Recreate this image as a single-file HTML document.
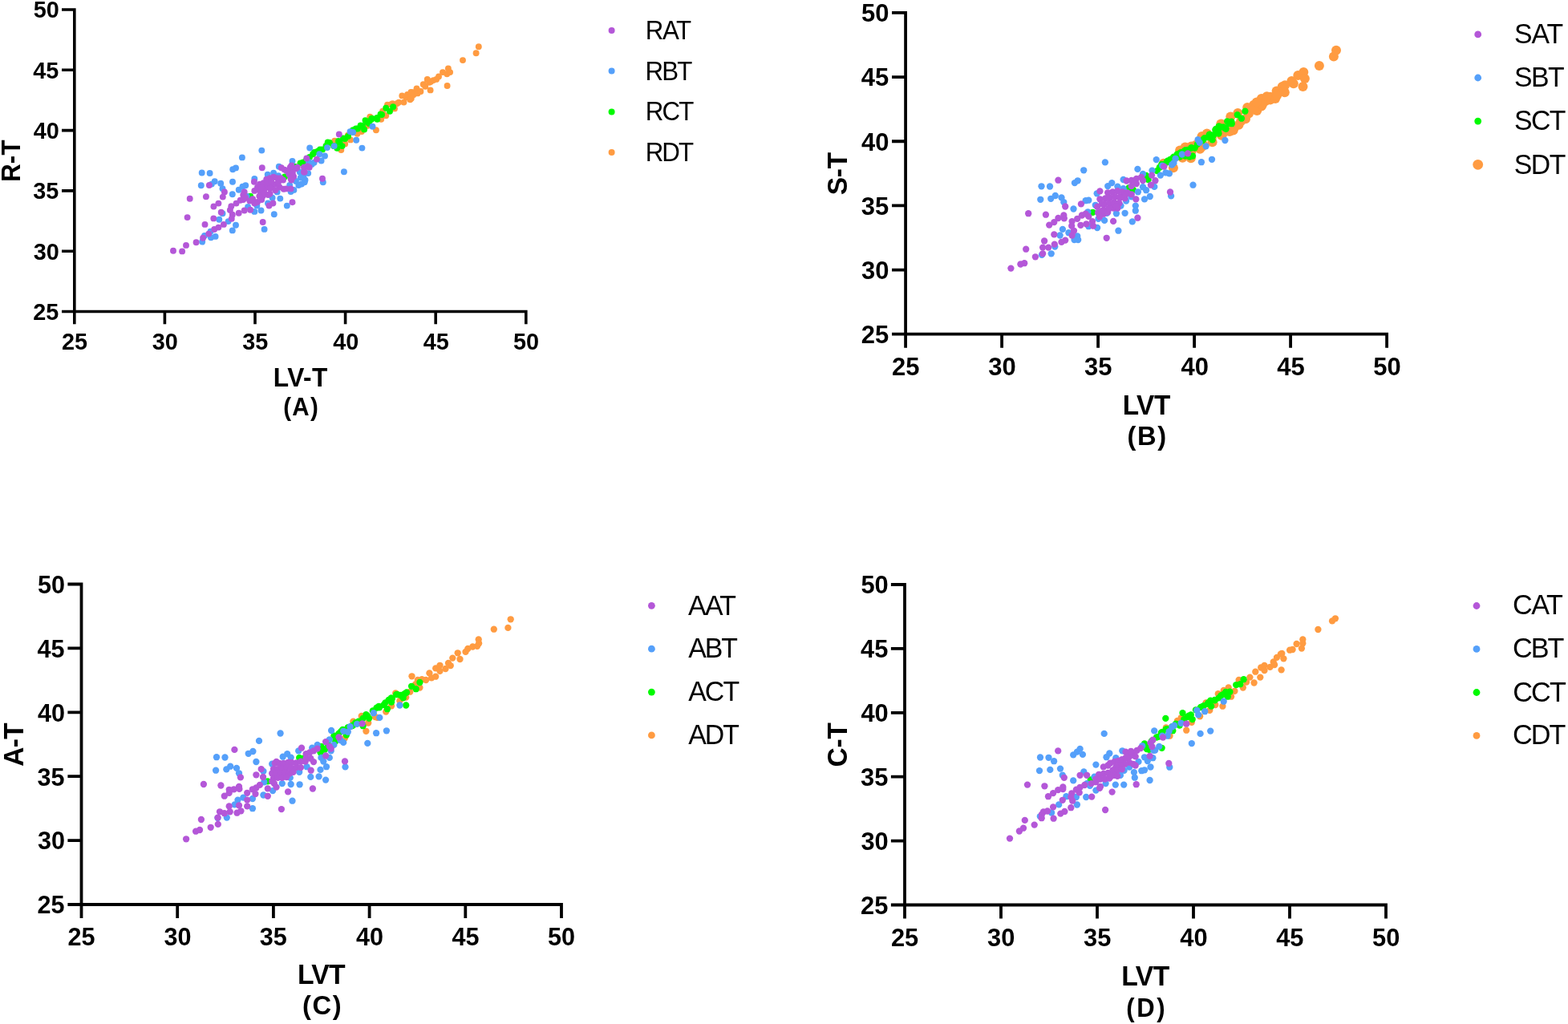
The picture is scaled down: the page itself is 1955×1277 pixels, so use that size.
<!DOCTYPE html>
<html><head><meta charset="utf-8"><title>Scatter plots</title>
<style>
html,body{margin:0;padding:0;background:#fff;}
body{width:1955px;height:1277px;overflow:hidden;}
svg{display:block;}
text{font-kerning:normal;}
</style></head><body>
<svg width="1955" height="1277" viewBox="0 0 1955 1277">
<rect width="1955" height="1277" fill="#fff"/>
<g fill="#ff9b41">
<circle cx="506.5" cy="121.5" r="3.95"/>
<circle cx="515.3" cy="115.2" r="3.95"/>
<circle cx="524" cy="113.9" r="3.95"/>
<circle cx="530.3" cy="107.7" r="3.95"/>
<circle cx="535.3" cy="102.7" r="3.95"/>
<circle cx="540.4" cy="100.1" r="3.95"/>
<circle cx="532.8" cy="98.9" r="3.95"/>
<circle cx="512.8" cy="122.7" r="3.95"/>
<circle cx="495.2" cy="129" r="3.95"/>
<circle cx="487.7" cy="130.2" r="3.95"/>
<circle cx="425.3" cy="187" r="3.95"/>
<circle cx="437" cy="174.4" r="3.95"/>
<circle cx="433.8" cy="168.6" r="3.95"/>
<circle cx="445.5" cy="166.8" r="3.95"/>
<circle cx="450.9" cy="164.1" r="3.95"/>
<circle cx="458.2" cy="156.8" r="3.95"/>
<circle cx="461.3" cy="145.6" r="3.95"/>
<circle cx="417.2" cy="175.8" r="3.95"/>
<circle cx="430.2" cy="179.4" r="3.95"/>
<circle cx="468.9" cy="162.2" r="3.95"/>
<circle cx="475.2" cy="148.8" r="3.95"/>
<circle cx="481.2" cy="144.3" r="3.95"/>
<circle cx="477.1" cy="138.8" r="3.95"/>
<circle cx="483" cy="130.6" r="3.95"/>
<circle cx="489.4" cy="129.1" r="3.95"/>
<circle cx="492" cy="135.4" r="3.95"/>
<circle cx="497.2" cy="127.6" r="3.95"/>
<circle cx="503.5" cy="127.6" r="3.95"/>
<circle cx="501.3" cy="119.4" r="3.95"/>
<circle cx="508" cy="118" r="3.95"/>
<circle cx="512.4" cy="115" r="3.95"/>
<circle cx="511.3" cy="124.3" r="3.95"/>
<circle cx="519.5" cy="110.5" r="3.95"/>
<circle cx="515.4" cy="118.3" r="3.95"/>
<circle cx="520.6" cy="116.4" r="3.95"/>
<circle cx="524.4" cy="113.9" r="3.95"/>
<circle cx="527.8" cy="105.2" r="3.95"/>
<circle cx="532.9" cy="99.8" r="3.95"/>
<circle cx="537.2" cy="101.7" r="3.95"/>
<circle cx="536.6" cy="112.4" r="3.95"/>
<circle cx="544.1" cy="98.9" r="3.95"/>
<circle cx="547" cy="95.5" r="3.95"/>
<circle cx="552" cy="90.1" r="3.95"/>
<circle cx="558.9" cy="85.4" r="3.95"/>
<circle cx="557.3" cy="92.3" r="3.95"/>
<circle cx="561.1" cy="90.1" r="3.95"/>
<circle cx="557.6" cy="107" r="3.95"/>
<circle cx="577" cy="75.1" r="3.95"/>
<circle cx="593.6" cy="66.3" r="3.95"/>
<circle cx="596.8" cy="58.2" r="3.95"/>
</g>
<g fill="#00fa00">
<circle cx="312.1" cy="244.6" r="3.95"/>
<circle cx="355" cy="220.5" r="3.95"/>
<circle cx="362" cy="213" r="3.95"/>
<circle cx="368" cy="208" r="3.95"/>
<circle cx="378" cy="202.5" r="3.95"/>
<circle cx="386" cy="196" r="3.95"/>
<circle cx="392" cy="190" r="3.95"/>
<circle cx="399" cy="186.5" r="3.95"/>
<circle cx="411" cy="178" r="3.95"/>
<circle cx="416" cy="182" r="3.95"/>
<circle cx="422" cy="176" r="3.95"/>
<circle cx="428" cy="172.5" r="3.95"/>
<circle cx="434" cy="170" r="3.95"/>
<circle cx="440" cy="163" r="3.95"/>
<circle cx="446" cy="160.5" r="3.95"/>
<circle cx="452" cy="157" r="3.95"/>
<circle cx="458" cy="152" r="3.95"/>
<circle cx="463" cy="149" r="3.95"/>
<circle cx="470" cy="147" r="3.95"/>
<circle cx="476" cy="143" r="3.95"/>
<circle cx="374.5" cy="203.5" r="3.95"/>
<circle cx="390.1" cy="192.3" r="3.95"/>
<circle cx="396.1" cy="188.6" r="3.95"/>
<circle cx="402" cy="186.4" r="3.95"/>
<circle cx="408.7" cy="177.4" r="3.95"/>
<circle cx="406.5" cy="181.9" r="3.95"/>
<circle cx="382" cy="199.7" r="3.95"/>
<circle cx="417.6" cy="182.1" r="3.95"/>
<circle cx="423.5" cy="177.6" r="3.95"/>
<circle cx="430.2" cy="173.1" r="3.95"/>
<circle cx="426.6" cy="182.1" r="3.95"/>
<circle cx="420.3" cy="184.8" r="3.95"/>
<circle cx="440.1" cy="162.3" r="3.95"/>
<circle cx="443.7" cy="160.5" r="3.95"/>
<circle cx="449.6" cy="156.4" r="3.95"/>
<circle cx="454.1" cy="161.4" r="3.95"/>
<circle cx="455.5" cy="150.1" r="3.95"/>
<circle cx="460" cy="154.1" r="3.95"/>
<circle cx="463.6" cy="147.8" r="3.95"/>
<circle cx="470.4" cy="148.8" r="3.95"/>
<circle cx="474.5" cy="142.5" r="3.95"/>
<circle cx="481.2" cy="134.7" r="3.95"/>
<circle cx="486" cy="138.8" r="3.95"/>
<circle cx="490.1" cy="133.2" r="3.95"/>
</g>
<g fill="#55a0fa">
<circle cx="251.7" cy="215.5" r="3.95"/>
<circle cx="261.6" cy="216" r="3.95"/>
<circle cx="250.8" cy="231.2" r="3.95"/>
<circle cx="267.7" cy="226.3" r="3.95"/>
<circle cx="275.2" cy="228.7" r="3.95"/>
<circle cx="277.5" cy="235.2" r="3.95"/>
<circle cx="263.9" cy="229.6" r="3.95"/>
<circle cx="290.2" cy="211.3" r="3.95"/>
<circle cx="294" cy="209.4" r="3.95"/>
<circle cx="290" cy="226.8" r="3.95"/>
<circle cx="289.8" cy="242.3" r="3.95"/>
<circle cx="273.3" cy="273.8" r="3.95"/>
<circle cx="277.5" cy="266.3" r="3.95"/>
<circle cx="284.6" cy="276.1" r="3.95"/>
<circle cx="294" cy="280.8" r="3.95"/>
<circle cx="289.8" cy="287.4" r="3.95"/>
<circle cx="252.2" cy="301.5" r="3.95"/>
<circle cx="255" cy="294" r="3.95"/>
<circle cx="263" cy="296.3" r="3.95"/>
<circle cx="268.6" cy="294.9" r="3.95"/>
<circle cx="262.5" cy="288.8" r="3.95"/>
<circle cx="297.7" cy="236.7" r="3.95"/>
<circle cx="347.8" cy="207.8" r="3.95"/>
<circle cx="317.3" cy="223" r="3.95"/>
<circle cx="306.2" cy="231.2" r="3.95"/>
<circle cx="302.4" cy="232.7" r="3.95"/>
<circle cx="307.6" cy="244.6" r="3.95"/>
<circle cx="333.7" cy="217.8" r="3.95"/>
<circle cx="341.1" cy="215.6" r="3.95"/>
<circle cx="347" cy="219.3" r="3.95"/>
<circle cx="345.6" cy="239.4" r="3.95"/>
<circle cx="339.6" cy="246.8" r="3.95"/>
<circle cx="349.3" cy="247.6" r="3.95"/>
<circle cx="334" cy="253.5" r="3.95"/>
<circle cx="325.5" cy="262.5" r="3.95"/>
<circle cx="317.3" cy="263.9" r="3.95"/>
<circle cx="309.1" cy="258" r="3.95"/>
<circle cx="320.3" cy="256.5" r="3.95"/>
<circle cx="341.8" cy="267.3" r="3.95"/>
<circle cx="329.6" cy="285.9" r="3.95"/>
<circle cx="301.9" cy="196.4" r="3.95"/>
<circle cx="326.3" cy="187.6" r="3.95"/>
<circle cx="374.7" cy="221.6" r="3.95"/>
<circle cx="369" cy="226" r="3.95"/>
<circle cx="380.5" cy="224.5" r="3.95"/>
<circle cx="386.2" cy="184.5" r="3.95"/>
<circle cx="408" cy="184.1" r="3.95"/>
<circle cx="364.5" cy="200.9" r="3.95"/>
<circle cx="398.3" cy="192.3" r="3.95"/>
<circle cx="405" cy="194.5" r="3.95"/>
<circle cx="400.6" cy="200.5" r="3.95"/>
<circle cx="391.6" cy="202.7" r="3.95"/>
<circle cx="384.9" cy="202" r="3.95"/>
<circle cx="388.7" cy="204.9" r="3.95"/>
<circle cx="373.8" cy="214.6" r="3.95"/>
<circle cx="378.3" cy="220.6" r="3.95"/>
<circle cx="372.3" cy="231" r="3.95"/>
<circle cx="379.7" cy="227.2" r="3.95"/>
<circle cx="376" cy="229.5" r="3.95"/>
<circle cx="384.2" cy="216.1" r="3.95"/>
<circle cx="361.2" cy="231" r="3.95"/>
<circle cx="362.6" cy="239.1" r="3.95"/>
<circle cx="366.4" cy="236.9" r="3.95"/>
<circle cx="402.8" cy="227.2" r="3.95"/>
<circle cx="357.8" cy="256.6" r="3.95"/>
<circle cx="416.7" cy="182.1" r="3.95"/>
<circle cx="436.5" cy="164.1" r="3.95"/>
<circle cx="440.1" cy="165" r="3.95"/>
<circle cx="444.2" cy="174.7" r="3.95"/>
<circle cx="451.4" cy="184.6" r="3.95"/>
<circle cx="428.9" cy="214.3" r="3.95"/>
<circle cx="464.5" cy="157.7" r="3.95"/>
</g>
<g fill="#b457d8">
<circle cx="216" cy="312.8" r="3.95"/>
<circle cx="227.1" cy="313.4" r="3.95"/>
<circle cx="232" cy="305.9" r="3.95"/>
<circle cx="244.6" cy="302.2" r="3.95"/>
<circle cx="253.1" cy="296.8" r="3.95"/>
<circle cx="260.2" cy="291.6" r="3.95"/>
<circle cx="267.2" cy="286" r="3.95"/>
<circle cx="272.4" cy="283.6" r="3.95"/>
<circle cx="278.9" cy="279.9" r="3.95"/>
<circle cx="266.3" cy="272.4" r="3.95"/>
<circle cx="275.7" cy="264.8" r="3.95"/>
<circle cx="255.5" cy="279.9" r="3.95"/>
<circle cx="233.6" cy="271.1" r="3.95"/>
<circle cx="236.7" cy="247.7" r="3.95"/>
<circle cx="256.9" cy="245.3" r="3.95"/>
<circle cx="260.9" cy="231" r="3.95"/>
<circle cx="279.9" cy="239.5" r="3.95"/>
<circle cx="277.8" cy="245.6" r="3.95"/>
<circle cx="272.4" cy="253.6" r="3.95"/>
<circle cx="266.4" cy="257.5" r="3.95"/>
<circle cx="288.3" cy="257.3" r="3.95"/>
<circle cx="286.9" cy="262" r="3.95"/>
<circle cx="289.8" cy="267.7" r="3.95"/>
<circle cx="288.8" cy="272.8" r="3.95"/>
<circle cx="294.5" cy="253.6" r="3.95"/>
<circle cx="297.7" cy="265.8" r="3.95"/>
<circle cx="299.6" cy="249.8" r="3.95"/>
<circle cx="326.8" cy="209.3" r="3.95"/>
<circle cx="350.8" cy="209.3" r="3.95"/>
<circle cx="316.9" cy="226.8" r="3.95"/>
<circle cx="304.7" cy="239.4" r="3.95"/>
<circle cx="303.2" cy="243.1" r="3.95"/>
<circle cx="303.2" cy="249.1" r="3.95"/>
<circle cx="306.2" cy="246.8" r="3.95"/>
<circle cx="312.1" cy="261.7" r="3.95"/>
<circle cx="304.7" cy="262.5" r="3.95"/>
<circle cx="317.3" cy="237.9" r="3.95"/>
<circle cx="321" cy="233.5" r="3.95"/>
<circle cx="324" cy="229.7" r="3.95"/>
<circle cx="328.5" cy="228.3" r="3.95"/>
<circle cx="332.2" cy="223.8" r="3.95"/>
<circle cx="336.6" cy="222.3" r="3.95"/>
<circle cx="341.1" cy="220.8" r="3.95"/>
<circle cx="345.6" cy="222.3" r="3.95"/>
<circle cx="350" cy="222.3" r="3.95"/>
<circle cx="353" cy="224.5" r="3.95"/>
<circle cx="353.7" cy="235.7" r="3.95"/>
<circle cx="348.5" cy="233.5" r="3.95"/>
<circle cx="343.3" cy="237.2" r="3.95"/>
<circle cx="336.6" cy="241.6" r="3.95"/>
<circle cx="334.4" cy="243.1" r="3.95"/>
<circle cx="327.7" cy="244.6" r="3.95"/>
<circle cx="326.2" cy="249.1" r="3.95"/>
<circle cx="321" cy="252" r="3.95"/>
<circle cx="317.3" cy="253.5" r="3.95"/>
<circle cx="311.4" cy="250.6" r="3.95"/>
<circle cx="315.1" cy="248.3" r="3.95"/>
<circle cx="324.7" cy="238.7" r="3.95"/>
<circle cx="330.7" cy="234.2" r="3.95"/>
<circle cx="339.6" cy="231.2" r="3.95"/>
<circle cx="335.1" cy="231.2" r="3.95"/>
<circle cx="329.2" cy="238.7" r="3.95"/>
<circle cx="323.3" cy="244.6" r="3.95"/>
<circle cx="335.5" cy="256.5" r="3.95"/>
<circle cx="340.4" cy="253.5" r="3.95"/>
<circle cx="327.7" cy="277" r="3.95"/>
<circle cx="326.2" cy="233.8" r="3.95"/>
<circle cx="333.7" cy="226" r="3.95"/>
<circle cx="338.1" cy="225.7" r="3.95"/>
<circle cx="336.6" cy="234.9" r="3.95"/>
<circle cx="344.1" cy="229.7" r="3.95"/>
<circle cx="347" cy="227.5" r="3.95"/>
<circle cx="354.7" cy="211.6" r="3.95"/>
<circle cx="361.8" cy="208.7" r="3.95"/>
<circle cx="369" cy="210.2" r="3.95"/>
<circle cx="360.4" cy="217.3" r="3.95"/>
<circle cx="366.1" cy="220.2" r="3.95"/>
<circle cx="363.3" cy="224.5" r="3.95"/>
<circle cx="357.5" cy="213" r="3.95"/>
<circle cx="379" cy="208.7" r="3.95"/>
<circle cx="383.3" cy="207.3" r="3.95"/>
<circle cx="379" cy="214.5" r="3.95"/>
<circle cx="382.3" cy="197.5" r="3.95"/>
<circle cx="395" cy="198.6" r="3.95"/>
<circle cx="363.4" cy="206.4" r="3.95"/>
<circle cx="370.8" cy="208.7" r="3.95"/>
<circle cx="358.2" cy="213.1" r="3.95"/>
<circle cx="364.9" cy="215.4" r="3.95"/>
<circle cx="362.6" cy="222.8" r="3.95"/>
<circle cx="356.7" cy="235.4" r="3.95"/>
<circle cx="362.6" cy="235.4" r="3.95"/>
<circle cx="379.7" cy="208.7" r="3.95"/>
<circle cx="385.7" cy="208.7" r="3.95"/>
<circle cx="379.7" cy="214.6" r="3.95"/>
<circle cx="402" cy="222.8" r="3.95"/>
<circle cx="364.5" cy="252.2" r="3.95"/>
<circle cx="422.8" cy="167.5" r="3.95"/>
</g>
<g fill="#ff9b41">
<circle cx="1450.8" cy="203.8" r="6"/>
<circle cx="1462.9" cy="209.3" r="6"/>
<circle cx="1471.1" cy="187.4" r="6"/>
<circle cx="1477.7" cy="183.5" r="6"/>
<circle cx="1485.3" cy="182.4" r="6"/>
<circle cx="1491.9" cy="183" r="6"/>
<circle cx="1474.4" cy="196.7" r="6"/>
<circle cx="1484.8" cy="197.2" r="6"/>
<circle cx="1498.5" cy="169.9" r="6"/>
<circle cx="1496.2" cy="185.7" r="6"/>
<circle cx="1511.6" cy="177.2" r="6"/>
<circle cx="1522.3" cy="154.5" r="6"/>
<circle cx="1522.9" cy="168.7" r="6"/>
<circle cx="1534.3" cy="145.5" r="6"/>
<circle cx="1537.7" cy="162.5" r="6"/>
<circle cx="1544.5" cy="155.7" r="6"/>
<circle cx="1543.3" cy="140.9" r="6"/>
<circle cx="1553" cy="148.3" r="6"/>
<circle cx="1555.2" cy="134.1" r="6"/>
<circle cx="1563.2" cy="130.7" r="6"/>
<circle cx="1567.2" cy="138.1" r="6"/>
<circle cx="1504.8" cy="166.5" r="6"/>
<circle cx="1572.8" cy="123" r="6"/>
<circle cx="1572.8" cy="132.4" r="6"/>
<circle cx="1583.8" cy="120.7" r="6"/>
<circle cx="1590.1" cy="123" r="6"/>
<circle cx="1591.6" cy="113.6" r="6"/>
<circle cx="1598.7" cy="108.1" r="6"/>
<circle cx="1601.8" cy="115.2" r="6"/>
<circle cx="1610.4" cy="101.1" r="6"/>
<circle cx="1612.8" cy="104.2" r="6"/>
<circle cx="1618.3" cy="94" r="6"/>
<circle cx="1625.3" cy="90.1" r="6"/>
<circle cx="1626.9" cy="98" r="6"/>
<circle cx="1624.5" cy="108.1" r="6"/>
<circle cx="1644.9" cy="81.9" r="6"/>
<circle cx="1662.9" cy="70.5" r="6"/>
<circle cx="1666" cy="62.7" r="6"/>
<circle cx="1577.5" cy="126.2" r="6"/>
<circle cx="1472.1" cy="194.6" r="6"/>
<circle cx="1485.5" cy="188.7" r="6"/>
<circle cx="1498.9" cy="182.7" r="6"/>
<circle cx="1510.8" cy="172.3" r="6"/>
<circle cx="1524.6" cy="166.8" r="6"/>
<circle cx="1538.6" cy="159.8" r="6"/>
<circle cx="1547.1" cy="151.3" r="6"/>
<circle cx="1557" cy="141.5" r="6"/>
<circle cx="1564" cy="135.8" r="6"/>
<circle cx="1573.9" cy="130.2" r="6"/>
<circle cx="1583.7" cy="124.6" r="6"/>
<circle cx="1592.2" cy="118.9" r="6"/>
<circle cx="1600.7" cy="113.3" r="6"/>
<circle cx="1602.1" cy="106.2" r="6"/>
<circle cx="1566.8" cy="127.4" r="6"/>
<circle cx="1579.5" cy="120.3" r="6"/>
<circle cx="1533" cy="164" r="6"/>
<circle cx="1500.6" cy="180.9" r="6"/>
<circle cx="1490.7" cy="180.9" r="6"/>
</g>
<g fill="#00fa00">
<circle cx="1362.5" cy="264.8" r="4.15"/>
<circle cx="1407.7" cy="234.2" r="4.15"/>
<circle cx="1429.1" cy="218.9" r="4.15"/>
<circle cx="1412.8" cy="236.7" r="4.15"/>
<circle cx="1445.8" cy="208.7" r="4.15"/>
<circle cx="1450.2" cy="205.5" r="4.15"/>
<circle cx="1454.6" cy="202.2" r="4.15"/>
<circle cx="1459" cy="198.9" r="4.15"/>
<circle cx="1463.4" cy="195.6" r="4.15"/>
<circle cx="1467.8" cy="192.3" r="4.15"/>
<circle cx="1472.2" cy="190.1" r="4.15"/>
<circle cx="1476.6" cy="188.5" r="4.15"/>
<circle cx="1481" cy="186.8" r="4.15"/>
<circle cx="1485.3" cy="184.6" r="4.15"/>
<circle cx="1489.7" cy="184.6" r="4.15"/>
<circle cx="1477.7" cy="194.5" r="4.15"/>
<circle cx="1483.2" cy="195.6" r="4.15"/>
<circle cx="1487" cy="194.5" r="4.15"/>
<circle cx="1471.1" cy="195.6" r="4.15"/>
<circle cx="1431.6" cy="224.1" r="4.15"/>
<circle cx="1442.6" cy="213.1" r="4.15"/>
<circle cx="1501.9" cy="172.1" r="4.15"/>
<circle cx="1508.2" cy="167.6" r="4.15"/>
<circle cx="1511.6" cy="174.4" r="4.15"/>
<circle cx="1516.1" cy="160.8" r="4.15"/>
<circle cx="1519.5" cy="166.5" r="4.15"/>
<circle cx="1525.2" cy="158.5" r="4.15"/>
<circle cx="1528.6" cy="160.8" r="4.15"/>
<circle cx="1532" cy="154" r="4.15"/>
<circle cx="1535.4" cy="151.7" r="4.15"/>
<circle cx="1542.8" cy="143.2" r="4.15"/>
<circle cx="1547.9" cy="147.7" r="4.15"/>
<circle cx="1552.4" cy="138.7" r="4.15"/>
<circle cx="1448.3" cy="205" r="4.15"/>
<circle cx="1455.7" cy="200.6" r="4.15"/>
<circle cx="1463.2" cy="196.1" r="4.15"/>
<circle cx="1470.6" cy="191.7" r="4.15"/>
<circle cx="1478.1" cy="187.2" r="4.15"/>
<circle cx="1485.5" cy="184.2" r="4.15"/>
<circle cx="1493" cy="179.8" r="4.15"/>
<circle cx="1500.4" cy="173.8" r="4.15"/>
<circle cx="1507.8" cy="167.9" r="4.15"/>
<circle cx="1515.3" cy="161.9" r="4.15"/>
<circle cx="1519.7" cy="157.4" r="4.15"/>
<circle cx="1506.2" cy="171.1" r="4.15"/>
<circle cx="1518.9" cy="164" r="4.15"/>
<circle cx="1527.4" cy="159.8" r="4.15"/>
<circle cx="1535.8" cy="154.2" r="4.15"/>
<circle cx="1530.2" cy="151.3" r="4.15"/>
<circle cx="1521.7" cy="158.4" r="4.15"/>
<circle cx="1499.2" cy="175.3" r="4.15"/>
<circle cx="1513.3" cy="168.2" r="4.15"/>
</g>
<g fill="#55a0fa">
<circle cx="1298.5" cy="232.3" r="4.15"/>
<circle cx="1309" cy="232.5" r="4.15"/>
<circle cx="1297.3" cy="248.8" r="4.15"/>
<circle cx="1310.2" cy="247.8" r="4.15"/>
<circle cx="1315.8" cy="244" r="4.15"/>
<circle cx="1299" cy="317.8" r="4.15"/>
<circle cx="1310.7" cy="316.3" r="4.15"/>
<circle cx="1315.3" cy="307.6" r="4.15"/>
<circle cx="1351.2" cy="212.3" r="4.15"/>
<circle cx="1339.9" cy="228.1" r="4.15"/>
<circle cx="1343.7" cy="225.3" r="4.15"/>
<circle cx="1323.5" cy="246.4" r="4.15"/>
<circle cx="1326.3" cy="252.1" r="4.15"/>
<circle cx="1338.5" cy="260.5" r="4.15"/>
<circle cx="1353.6" cy="250.2" r="4.15"/>
<circle cx="1357.3" cy="249.7" r="4.15"/>
<circle cx="1367.7" cy="241.3" r="4.15"/>
<circle cx="1356.4" cy="264.3" r="4.15"/>
<circle cx="1324.9" cy="285.9" r="4.15"/>
<circle cx="1332.4" cy="290.2" r="4.15"/>
<circle cx="1321.6" cy="293.5" r="4.15"/>
<circle cx="1343.2" cy="294.4" r="4.15"/>
<circle cx="1339.5" cy="299.1" r="4.15"/>
<circle cx="1344.2" cy="299.1" r="4.15"/>
<circle cx="1357.3" cy="282.2" r="4.15"/>
<circle cx="1368.1" cy="284" r="4.15"/>
<circle cx="1369.5" cy="272.8" r="4.15"/>
<circle cx="1365.8" cy="255.8" r="4.15"/>
<circle cx="1377.9" cy="202.4" r="4.15"/>
<circle cx="1418.4" cy="210.9" r="4.15"/>
<circle cx="1425" cy="216.9" r="4.15"/>
<circle cx="1400.6" cy="224" r="4.15"/>
<circle cx="1381.2" cy="232.1" r="4.15"/>
<circle cx="1386.3" cy="228.1" r="4.15"/>
<circle cx="1393.4" cy="232.6" r="4.15"/>
<circle cx="1400.6" cy="235.2" r="4.15"/>
<circle cx="1404.1" cy="250.5" r="4.15"/>
<circle cx="1397.5" cy="256.6" r="4.15"/>
<circle cx="1391.9" cy="266.3" r="4.15"/>
<circle cx="1402.6" cy="265.8" r="4.15"/>
<circle cx="1415.8" cy="256.6" r="4.15"/>
<circle cx="1415.8" cy="262.7" r="4.15"/>
<circle cx="1427" cy="248.4" r="4.15"/>
<circle cx="1418.9" cy="239.3" r="4.15"/>
<circle cx="1425" cy="233.2" r="4.15"/>
<circle cx="1429.1" cy="237.2" r="4.15"/>
<circle cx="1410.7" cy="245.4" r="4.15"/>
<circle cx="1411.8" cy="276.4" r="4.15"/>
<circle cx="1394.4" cy="287.7" r="4.15"/>
<circle cx="1377.1" cy="274.9" r="4.15"/>
<circle cx="1380.2" cy="265.8" r="4.15"/>
<circle cx="1441.7" cy="199.1" r="4.15"/>
<circle cx="1436.5" cy="212.6" r="4.15"/>
<circle cx="1446.9" cy="218.6" r="4.15"/>
<circle cx="1453.5" cy="215.3" r="4.15"/>
<circle cx="1457.9" cy="216.4" r="4.15"/>
<circle cx="1461.2" cy="205.5" r="4.15"/>
<circle cx="1465.6" cy="197.8" r="4.15"/>
<circle cx="1463.4" cy="203.3" r="4.15"/>
<circle cx="1473.8" cy="192.5" r="4.15"/>
<circle cx="1493.6" cy="174.2" r="4.15"/>
<circle cx="1487.5" cy="230.7" r="4.15"/>
<circle cx="1460.1" cy="244.4" r="4.15"/>
<circle cx="1439.3" cy="232.9" r="4.15"/>
<circle cx="1433.8" cy="245" r="4.15"/>
<circle cx="1449.1" cy="206.6" r="4.15"/>
<circle cx="1495.7" cy="177.8" r="4.15"/>
<circle cx="1503.6" cy="182.3" r="4.15"/>
<circle cx="1527.4" cy="175" r="4.15"/>
<circle cx="1497.9" cy="202.2" r="4.15"/>
<circle cx="1511" cy="198.8" r="4.15"/>
</g>
<g fill="#b457d8">
<circle cx="1260.4" cy="334.6" r="4.15"/>
<circle cx="1272.4" cy="329.5" r="4.15"/>
<circle cx="1277.2" cy="328.2" r="4.15"/>
<circle cx="1290.9" cy="320.3" r="4.15"/>
<circle cx="1279.2" cy="310.7" r="4.15"/>
<circle cx="1300.1" cy="316.3" r="4.15"/>
<circle cx="1300.1" cy="308.6" r="4.15"/>
<circle cx="1302.1" cy="300.5" r="4.15"/>
<circle cx="1307.2" cy="308.6" r="4.15"/>
<circle cx="1314.8" cy="304.6" r="4.15"/>
<circle cx="1314.3" cy="292.4" r="4.15"/>
<circle cx="1308.2" cy="280.6" r="4.15"/>
<circle cx="1314.3" cy="277.1" r="4.15"/>
<circle cx="1319.4" cy="272" r="4.15"/>
<circle cx="1303.9" cy="267.7" r="4.15"/>
<circle cx="1282.2" cy="266.2" r="4.15"/>
<circle cx="1319.4" cy="224.7" r="4.15"/>
<circle cx="1328.2" cy="257.5" r="4.15"/>
<circle cx="1326.3" cy="268.5" r="4.15"/>
<circle cx="1326.8" cy="272.3" r="4.15"/>
<circle cx="1347.9" cy="254.4" r="4.15"/>
<circle cx="1336.6" cy="276.1" r="4.15"/>
<circle cx="1336.2" cy="281.7" r="4.15"/>
<circle cx="1339" cy="287.8" r="4.15"/>
<circle cx="1336.6" cy="293.5" r="4.15"/>
<circle cx="1343.2" cy="272.8" r="4.15"/>
<circle cx="1348.9" cy="268.5" r="4.15"/>
<circle cx="1353.6" cy="266.6" r="4.15"/>
<circle cx="1357.3" cy="269.9" r="4.15"/>
<circle cx="1347.4" cy="280.8" r="4.15"/>
<circle cx="1354.5" cy="279.3" r="4.15"/>
<circle cx="1362" cy="276.1" r="4.15"/>
<circle cx="1363" cy="281.7" r="4.15"/>
<circle cx="1328.2" cy="299.6" r="4.15"/>
<circle cx="1323.5" cy="301.9" r="4.15"/>
<circle cx="1371.4" cy="238.4" r="4.15"/>
<circle cx="1371.4" cy="248.3" r="4.15"/>
<circle cx="1368.1" cy="257.7" r="4.15"/>
<circle cx="1369.1" cy="265.2" r="4.15"/>
<circle cx="1371" cy="270.4" r="4.15"/>
<circle cx="1381.2" cy="240.3" r="4.15"/>
<circle cx="1387.3" cy="239.3" r="4.15"/>
<circle cx="1393.4" cy="238.2" r="4.15"/>
<circle cx="1399.5" cy="239.3" r="4.15"/>
<circle cx="1405.7" cy="240.3" r="4.15"/>
<circle cx="1410.7" cy="242.3" r="4.15"/>
<circle cx="1378.1" cy="247.4" r="4.15"/>
<circle cx="1384.3" cy="246.4" r="4.15"/>
<circle cx="1390.4" cy="245.4" r="4.15"/>
<circle cx="1396.5" cy="245.4" r="4.15"/>
<circle cx="1402.6" cy="247.4" r="4.15"/>
<circle cx="1377.1" cy="254.5" r="4.15"/>
<circle cx="1383.2" cy="253.5" r="4.15"/>
<circle cx="1389.4" cy="252.5" r="4.15"/>
<circle cx="1395.5" cy="253.5" r="4.15"/>
<circle cx="1376.1" cy="261.7" r="4.15"/>
<circle cx="1382.2" cy="260.7" r="4.15"/>
<circle cx="1388.3" cy="259.6" r="4.15"/>
<circle cx="1393.4" cy="259.6" r="4.15"/>
<circle cx="1376.1" cy="266.8" r="4.15"/>
<circle cx="1381.2" cy="264.7" r="4.15"/>
<circle cx="1404.6" cy="225.5" r="4.15"/>
<circle cx="1410.7" cy="225" r="4.15"/>
<circle cx="1416.9" cy="223" r="4.15"/>
<circle cx="1423" cy="220.9" r="4.15"/>
<circle cx="1425" cy="225" r="4.15"/>
<circle cx="1410.7" cy="232.1" r="4.15"/>
<circle cx="1416.9" cy="229.1" r="4.15"/>
<circle cx="1416.3" cy="248.4" r="4.15"/>
<circle cx="1418.4" cy="271.7" r="4.15"/>
<circle cx="1388.1" cy="275.9" r="4.15"/>
<circle cx="1379.7" cy="296.8" r="4.15"/>
<circle cx="1436" cy="218.6" r="4.15"/>
<circle cx="1440.4" cy="225.2" r="4.15"/>
<circle cx="1434.9" cy="230.7" r="4.15"/>
<circle cx="1451.3" cy="207.7" r="4.15"/>
<circle cx="1481" cy="191.4" r="4.15"/>
<circle cx="1459" cy="239.5" r="4.15"/>
<circle cx="1373.9" cy="254.2" r="4.15"/>
<circle cx="1381.3" cy="246.7" r="4.15"/>
<circle cx="1388.8" cy="254.2" r="4.15"/>
<circle cx="1396.2" cy="246.7" r="4.15"/>
<circle cx="1373.9" cy="263.1" r="4.15"/>
<circle cx="1382.8" cy="260.1" r="4.15"/>
<circle cx="1391.8" cy="257.1" r="4.15"/>
<circle cx="1370.9" cy="269" r="4.15"/>
<circle cx="1403.7" cy="242.2" r="4.15"/>
</g>
<g fill="#ff9b41">
<circle cx="440.4" cy="899.6" r="4.15"/>
<circle cx="450.7" cy="893" r="4.15"/>
<circle cx="456.4" cy="911.8" r="4.15"/>
<circle cx="459.2" cy="901.5" r="4.15"/>
<circle cx="467.7" cy="894" r="4.15"/>
<circle cx="470.5" cy="894.9" r="4.15"/>
<circle cx="430" cy="920.3" r="4.15"/>
<circle cx="493.2" cy="864.4" r="4.15"/>
<circle cx="488.1" cy="880.3" r="4.15"/>
<circle cx="481.2" cy="887.6" r="4.15"/>
<circle cx="498.4" cy="873.9" r="4.15"/>
<circle cx="506.2" cy="869.6" r="4.15"/>
<circle cx="511.3" cy="862.7" r="4.15"/>
<circle cx="513.5" cy="843.3" r="4.15"/>
<circle cx="520.8" cy="848" r="4.15"/>
<circle cx="523.4" cy="857.5" r="4.15"/>
<circle cx="526" cy="847.2" r="4.15"/>
<circle cx="531.1" cy="848" r="4.15"/>
<circle cx="535.4" cy="839.4" r="4.15"/>
<circle cx="538" cy="845.4" r="4.15"/>
<circle cx="543.2" cy="833.4" r="4.15"/>
<circle cx="543.2" cy="843.7" r="4.15"/>
<circle cx="518.2" cy="853.2" r="4.15"/>
<circle cx="548.5" cy="829.8" r="4.15"/>
<circle cx="548.5" cy="836.8" r="4.15"/>
<circle cx="555.5" cy="834" r="4.15"/>
<circle cx="559" cy="826.9" r="4.15"/>
<circle cx="561.8" cy="830.1" r="4.15"/>
<circle cx="564.3" cy="820.6" r="4.15"/>
<circle cx="570.7" cy="814.3" r="4.15"/>
<circle cx="573.5" cy="822" r="4.15"/>
<circle cx="580.5" cy="812.9" r="4.15"/>
<circle cx="583.3" cy="809" r="4.15"/>
<circle cx="589.3" cy="806.5" r="4.15"/>
<circle cx="595" cy="805.8" r="4.15"/>
<circle cx="596.7" cy="797.4" r="4.15"/>
<circle cx="597.1" cy="802.3" r="4.15"/>
<circle cx="615.8" cy="784.7" r="4.15"/>
<circle cx="633.4" cy="782.9" r="4.15"/>
<circle cx="636.7" cy="772.3" r="4.15"/>
</g>
<g fill="#00fa00">
<circle cx="333.8" cy="974.4" r="4.15"/>
<circle cx="373.2" cy="944.9" r="4.15"/>
<circle cx="377.9" cy="945.8" r="4.15"/>
<circle cx="400.4" cy="930.8" r="4.15"/>
<circle cx="405.1" cy="934.5" r="4.15"/>
<circle cx="399.5" cy="938.3" r="4.15"/>
<circle cx="416.4" cy="917.6" r="4.15"/>
<circle cx="418.3" cy="924.2" r="4.15"/>
<circle cx="422.5" cy="914.6" r="4.15"/>
<circle cx="427.2" cy="909.9" r="4.15"/>
<circle cx="433.8" cy="907.1" r="4.15"/>
<circle cx="438.5" cy="905.2" r="4.15"/>
<circle cx="443.2" cy="901.5" r="4.15"/>
<circle cx="447" cy="899.6" r="4.15"/>
<circle cx="452.6" cy="895.8" r="4.15"/>
<circle cx="456.4" cy="891.1" r="4.15"/>
<circle cx="460.1" cy="895.8" r="4.15"/>
<circle cx="452.6" cy="905.2" r="4.15"/>
<circle cx="464.8" cy="886.4" r="4.15"/>
<circle cx="469.5" cy="882.7" r="4.15"/>
<circle cx="472.4" cy="880.8" r="4.15"/>
<circle cx="431.9" cy="916.5" r="4.15"/>
<circle cx="478.6" cy="879" r="4.15"/>
<circle cx="482.9" cy="884.2" r="4.15"/>
<circle cx="484.6" cy="873" r="4.15"/>
<circle cx="488.9" cy="871.3" r="4.15"/>
<circle cx="488.1" cy="875.6" r="4.15"/>
<circle cx="494.1" cy="866.1" r="4.15"/>
<circle cx="499.3" cy="867" r="4.15"/>
<circle cx="504.4" cy="865.2" r="4.15"/>
<circle cx="507" cy="863.5" r="4.15"/>
<circle cx="502.7" cy="870.4" r="4.15"/>
<circle cx="513.1" cy="855.8" r="4.15"/>
<circle cx="518.7" cy="859.2" r="4.15"/>
<circle cx="523.4" cy="851" r="4.15"/>
<circle cx="506.2" cy="879.5" r="4.15"/>
<circle cx="418" cy="918" r="4.15"/>
<circle cx="425.3" cy="912.1" r="4.15"/>
<circle cx="432.8" cy="909.1" r="4.15"/>
<circle cx="440.2" cy="904.6" r="4.15"/>
<circle cx="447.6" cy="900.2" r="4.15"/>
<circle cx="458.1" cy="892.7" r="4.15"/>
<circle cx="465.5" cy="886.8" r="4.15"/>
<circle cx="473" cy="882.3" r="4.15"/>
<circle cx="480.4" cy="876.4" r="4.15"/>
<circle cx="487.8" cy="870.4" r="4.15"/>
<circle cx="495.3" cy="866" r="4.15"/>
<circle cx="409" cy="928.4" r="4.15"/>
<circle cx="403" cy="934.4" r="4.15"/>
</g>
<g fill="#55a0fa">
<circle cx="270" cy="944.2" r="4.15"/>
<circle cx="280.5" cy="944.5" r="4.15"/>
<circle cx="269.1" cy="960.7" r="4.15"/>
<circle cx="282.3" cy="959.4" r="4.15"/>
<circle cx="287.2" cy="955.7" r="4.15"/>
<circle cx="295" cy="957.9" r="4.15"/>
<circle cx="298" cy="964.3" r="4.15"/>
<circle cx="303.3" cy="994.6" r="4.15"/>
<circle cx="296.5" cy="997.6" r="4.15"/>
<circle cx="292.6" cy="1003.4" r="4.15"/>
<circle cx="271.5" cy="1020.1" r="4.15"/>
<circle cx="282.8" cy="1019.6" r="4.15"/>
<circle cx="309.7" cy="939.8" r="4.15"/>
<circle cx="349.6" cy="914.5" r="4.15"/>
<circle cx="323" cy="923.9" r="4.15"/>
<circle cx="315.4" cy="937" r="4.15"/>
<circle cx="319.4" cy="950" r="4.15"/>
<circle cx="339.2" cy="952.7" r="4.15"/>
<circle cx="352.7" cy="943.7" r="4.15"/>
<circle cx="358.2" cy="940.1" r="4.15"/>
<circle cx="362.7" cy="944.6" r="4.15"/>
<circle cx="328.4" cy="961.8" r="4.15"/>
<circle cx="329.3" cy="975.3" r="4.15"/>
<circle cx="328.4" cy="991.5" r="4.15"/>
<circle cx="314.9" cy="996" r="4.15"/>
<circle cx="314.9" cy="1008.2" r="4.15"/>
<circle cx="340.1" cy="986.1" r="4.15"/>
<circle cx="351.8" cy="977.1" r="4.15"/>
<circle cx="362.7" cy="978" r="4.15"/>
<circle cx="364.5" cy="998.7" r="4.15"/>
<circle cx="361.8" cy="969.9" r="4.15"/>
<circle cx="413.1" cy="911" r="4.15"/>
<circle cx="372.2" cy="936.4" r="4.15"/>
<circle cx="395.7" cy="928.9" r="4.15"/>
<circle cx="389.2" cy="932.7" r="4.15"/>
<circle cx="410.8" cy="922.3" r="4.15"/>
<circle cx="416.4" cy="928.9" r="4.15"/>
<circle cx="412.7" cy="936.4" r="4.15"/>
<circle cx="410.8" cy="944.9" r="4.15"/>
<circle cx="400.4" cy="944.9" r="4.15"/>
<circle cx="403.3" cy="949.6" r="4.15"/>
<circle cx="407" cy="956.2" r="4.15"/>
<circle cx="399.5" cy="959.9" r="4.15"/>
<circle cx="397.6" cy="968.4" r="4.15"/>
<circle cx="387.3" cy="968.9" r="4.15"/>
<circle cx="373.6" cy="978.3" r="4.15"/>
<circle cx="406.1" cy="972.6" r="4.15"/>
<circle cx="373.2" cy="962.8" r="4.15"/>
<circle cx="382.6" cy="956.2" r="4.15"/>
<circle cx="428.2" cy="925.9" r="4.15"/>
<circle cx="428.2" cy="911.8" r="4.15"/>
<circle cx="433.8" cy="912.8" r="4.15"/>
<circle cx="436.6" cy="906.2" r="4.15"/>
<circle cx="445.1" cy="902.9" r="4.15"/>
<circle cx="465.8" cy="889.2" r="4.15"/>
<circle cx="473.3" cy="894.9" r="4.15"/>
<circle cx="469.1" cy="914.2" r="4.15"/>
<circle cx="458.3" cy="926.9" r="4.15"/>
<circle cx="424.4" cy="923.1" r="4.15"/>
<circle cx="498.4" cy="879.5" r="4.15"/>
<circle cx="481.9" cy="911.3" r="4.15"/>
<circle cx="430.5" cy="956.4" r="4.15"/>
</g>
<g fill="#b457d8">
<circle cx="232.1" cy="1046.3" r="4.15"/>
<circle cx="244.1" cy="1036.7" r="4.15"/>
<circle cx="249" cy="1035" r="4.15"/>
<circle cx="262.7" cy="1031.8" r="4.15"/>
<circle cx="271.8" cy="1027.9" r="4.15"/>
<circle cx="250.9" cy="1022" r="4.15"/>
<circle cx="271.5" cy="1019.6" r="4.15"/>
<circle cx="274" cy="1012.3" r="4.15"/>
<circle cx="279.8" cy="1014.2" r="4.15"/>
<circle cx="285.7" cy="1005.4" r="4.15"/>
<circle cx="286.7" cy="1012.3" r="4.15"/>
<circle cx="295.5" cy="1013.7" r="4.15"/>
<circle cx="298" cy="1004.4" r="4.15"/>
<circle cx="300.4" cy="1011.3" r="4.15"/>
<circle cx="279.8" cy="992.7" r="4.15"/>
<circle cx="285.7" cy="988.8" r="4.15"/>
<circle cx="285.7" cy="984.8" r="4.15"/>
<circle cx="291.6" cy="984.3" r="4.15"/>
<circle cx="298" cy="980.9" r="4.15"/>
<circle cx="298.4" cy="983.9" r="4.15"/>
<circle cx="275.4" cy="979.5" r="4.15"/>
<circle cx="253.9" cy="978" r="4.15"/>
<circle cx="299.9" cy="969.4" r="4.15"/>
<circle cx="292.4" cy="934.9" r="4.15"/>
<circle cx="308.2" cy="988.8" r="4.15"/>
<circle cx="308.2" cy="997.6" r="4.15"/>
<circle cx="308.2" cy="1005.4" r="4.15"/>
<circle cx="325.7" cy="959.1" r="4.15"/>
<circle cx="319.4" cy="966.3" r="4.15"/>
<circle cx="328" cy="969" r="4.15"/>
<circle cx="323.9" cy="978.9" r="4.15"/>
<circle cx="319.4" cy="982.5" r="4.15"/>
<circle cx="314.9" cy="984.3" r="4.15"/>
<circle cx="318.5" cy="990.1" r="4.15"/>
<circle cx="333.8" cy="983.4" r="4.15"/>
<circle cx="333.8" cy="992.8" r="4.15"/>
<circle cx="350.9" cy="1009.1" r="4.15"/>
<circle cx="359.1" cy="987.4" r="4.15"/>
<circle cx="344.6" cy="950" r="4.15"/>
<circle cx="339.2" cy="964.5" r="4.15"/>
<circle cx="342.8" cy="951.8" r="4.15"/>
<circle cx="348.2" cy="951.8" r="4.15"/>
<circle cx="353.6" cy="951.8" r="4.15"/>
<circle cx="359.1" cy="950.9" r="4.15"/>
<circle cx="363.6" cy="950.9" r="4.15"/>
<circle cx="341" cy="959.1" r="4.15"/>
<circle cx="346.4" cy="959.1" r="4.15"/>
<circle cx="351.8" cy="958.2" r="4.15"/>
<circle cx="357.3" cy="957.3" r="4.15"/>
<circle cx="362.7" cy="957.3" r="4.15"/>
<circle cx="344.6" cy="964.5" r="4.15"/>
<circle cx="350" cy="964.5" r="4.15"/>
<circle cx="355.5" cy="963.6" r="4.15"/>
<circle cx="360.9" cy="964.5" r="4.15"/>
<circle cx="341" cy="970.8" r="4.15"/>
<circle cx="346.4" cy="969.9" r="4.15"/>
<circle cx="351.8" cy="969.9" r="4.15"/>
<circle cx="357.3" cy="969" r="4.15"/>
<circle cx="341.9" cy="977.1" r="4.15"/>
<circle cx="344.6" cy="981.6" r="4.15"/>
<circle cx="339.2" cy="974.4" r="4.15"/>
<circle cx="369.4" cy="951.5" r="4.15"/>
<circle cx="375" cy="949.6" r="4.15"/>
<circle cx="380.7" cy="949.6" r="4.15"/>
<circle cx="369.4" cy="957.1" r="4.15"/>
<circle cx="375" cy="957.1" r="4.15"/>
<circle cx="365.6" cy="962.8" r="4.15"/>
<circle cx="381.6" cy="940.2" r="4.15"/>
<circle cx="386.3" cy="938.3" r="4.15"/>
<circle cx="391" cy="936.4" r="4.15"/>
<circle cx="395.7" cy="933.6" r="4.15"/>
<circle cx="381.6" cy="945.8" r="4.15"/>
<circle cx="387.3" cy="945.8" r="4.15"/>
<circle cx="391" cy="950.1" r="4.15"/>
<circle cx="376" cy="932.7" r="4.15"/>
<circle cx="387.7" cy="960.7" r="4.15"/>
<circle cx="389.9" cy="983.5" r="4.15"/>
<circle cx="406.1" cy="925.1" r="4.15"/>
<circle cx="410.8" cy="930.8" r="4.15"/>
<circle cx="412.7" cy="933.6" r="4.15"/>
<circle cx="406.1" cy="942.5" r="4.15"/>
<circle cx="422.5" cy="919.3" r="4.15"/>
<circle cx="451.7" cy="902.4" r="4.15"/>
<circle cx="430" cy="949.4" r="4.15"/>
</g>
<g fill="#ff9b41">
<circle cx="1479.2" cy="910.7" r="4.15"/>
<circle cx="1496.1" cy="893.3" r="4.15"/>
<circle cx="1485.8" cy="900.8" r="4.15"/>
<circle cx="1472.6" cy="895.2" r="4.15"/>
<circle cx="1467.9" cy="898.9" r="4.15"/>
<circle cx="1458.5" cy="917.7" r="4.15"/>
<circle cx="1453.8" cy="907.4" r="4.15"/>
<circle cx="1503.6" cy="876.4" r="4.15"/>
<circle cx="1508.3" cy="885.8" r="4.15"/>
<circle cx="1515.3" cy="879" r="4.15"/>
<circle cx="1524.4" cy="880.7" r="4.15"/>
<circle cx="1518.8" cy="865.2" r="4.15"/>
<circle cx="1525.7" cy="860.9" r="4.15"/>
<circle cx="1531.7" cy="857.5" r="4.15"/>
<circle cx="1539.4" cy="861.8" r="4.15"/>
<circle cx="1535.1" cy="868.7" r="4.15"/>
<circle cx="1544.6" cy="848" r="4.15"/>
<circle cx="1549.8" cy="857.5" r="4.15"/>
<circle cx="1554.1" cy="850.6" r="4.15"/>
<circle cx="1558.4" cy="844.6" r="4.15"/>
<circle cx="1563.6" cy="851.5" r="4.15"/>
<circle cx="1565.3" cy="837.7" r="4.15"/>
<circle cx="1571.3" cy="844.6" r="4.15"/>
<circle cx="1572.2" cy="832.5" r="4.15"/>
<circle cx="1576.5" cy="829.9" r="4.15"/>
<circle cx="1576.5" cy="836" r="4.15"/>
<circle cx="1583.5" cy="831.9" r="4.15"/>
<circle cx="1587.7" cy="825.5" r="4.15"/>
<circle cx="1589.1" cy="829.1" r="4.15"/>
<circle cx="1591.9" cy="819.9" r="4.15"/>
<circle cx="1598.3" cy="815" r="4.15"/>
<circle cx="1600.4" cy="821.3" r="4.15"/>
<circle cx="1596.8" cy="815.7" r="4.15"/>
<circle cx="1597.6" cy="835.4" r="4.15"/>
<circle cx="1608.1" cy="810.7" r="4.15"/>
<circle cx="1611.6" cy="810" r="4.15"/>
<circle cx="1616.6" cy="803" r="4.15"/>
<circle cx="1622.9" cy="808.6" r="4.15"/>
<circle cx="1624.3" cy="797.4" r="4.15"/>
<circle cx="1624.3" cy="802.3" r="4.15"/>
<circle cx="1643.4" cy="785" r="4.15"/>
<circle cx="1661" cy="774.4" r="4.15"/>
<circle cx="1664.9" cy="771.3" r="4.15"/>
</g>
<g fill="#00fa00">
<circle cx="1359.8" cy="972.4" r="4.15"/>
<circle cx="1406.3" cy="943.4" r="4.15"/>
<circle cx="1427" cy="927.4" r="4.15"/>
<circle cx="1429.8" cy="934" r="4.15"/>
<circle cx="1432.7" cy="934.9" r="4.15"/>
<circle cx="1448.6" cy="932.8" r="4.15"/>
<circle cx="1444.4" cy="918.7" r="4.15"/>
<circle cx="1449.1" cy="913" r="4.15"/>
<circle cx="1453.8" cy="909.3" r="4.15"/>
<circle cx="1462.3" cy="911.2" r="4.15"/>
<circle cx="1466" cy="902.7" r="4.15"/>
<circle cx="1470.7" cy="904.6" r="4.15"/>
<circle cx="1474.5" cy="889.1" r="4.15"/>
<circle cx="1480.1" cy="894.2" r="4.15"/>
<circle cx="1484.8" cy="891.4" r="4.15"/>
<circle cx="1486.7" cy="897.1" r="4.15"/>
<circle cx="1453.3" cy="895.9" r="4.15"/>
<circle cx="1497" cy="882" r="4.15"/>
<circle cx="1500.8" cy="880.2" r="4.15"/>
<circle cx="1506.4" cy="876.4" r="4.15"/>
<circle cx="1509.2" cy="873.6" r="4.15"/>
<circle cx="1510.2" cy="880.7" r="4.15"/>
<circle cx="1514.5" cy="873" r="4.15"/>
<circle cx="1519.6" cy="870.4" r="4.15"/>
<circle cx="1524.8" cy="866.1" r="4.15"/>
<circle cx="1529.1" cy="864.4" r="4.15"/>
<circle cx="1533.4" cy="862.7" r="4.15"/>
<circle cx="1530.8" cy="868.7" r="4.15"/>
<circle cx="1541.2" cy="854.1" r="4.15"/>
<circle cx="1546.3" cy="853.2" r="4.15"/>
<circle cx="1550.6" cy="847.2" r="4.15"/>
<circle cx="1428.5" cy="931.4" r="4.15"/>
<circle cx="1436" cy="924" r="4.15"/>
<circle cx="1442" cy="919.5" r="4.15"/>
<circle cx="1447.9" cy="913.6" r="4.15"/>
<circle cx="1455.3" cy="909.1" r="4.15"/>
<circle cx="1461.3" cy="906.1" r="4.15"/>
<circle cx="1467.2" cy="903.1" r="4.15"/>
<circle cx="1476.2" cy="897.2" r="4.15"/>
<circle cx="1482.1" cy="892.7" r="4.15"/>
<circle cx="1491" cy="885.3" r="4.15"/>
<circle cx="1500" cy="880.8" r="4.15"/>
<circle cx="1505.9" cy="877.9" r="4.15"/>
<circle cx="1514.8" cy="873.4" r="4.15"/>
<circle cx="1522.3" cy="867.4" r="4.15"/>
<circle cx="1528.2" cy="863" r="4.15"/>
</g>
<g fill="#55a0fa">
<circle cx="1297" cy="944.5" r="4.15"/>
<circle cx="1307.5" cy="944.8" r="4.15"/>
<circle cx="1314.1" cy="949.2" r="4.15"/>
<circle cx="1296" cy="961.1" r="4.15"/>
<circle cx="1309.3" cy="959.9" r="4.15"/>
<circle cx="1322" cy="958.6" r="4.15"/>
<circle cx="1324.8" cy="966.7" r="4.15"/>
<circle cx="1320.2" cy="1003.4" r="4.15"/>
<circle cx="1329.4" cy="993.2" r="4.15"/>
<circle cx="1311.1" cy="1013.5" r="4.15"/>
<circle cx="1296.8" cy="1018.1" r="4.15"/>
<circle cx="1376.7" cy="914.9" r="4.15"/>
<circle cx="1338.2" cy="941.4" r="4.15"/>
<circle cx="1342.9" cy="937.6" r="4.15"/>
<circle cx="1346.6" cy="933.9" r="4.15"/>
<circle cx="1349.9" cy="940.9" r="4.15"/>
<circle cx="1366.4" cy="953.6" r="4.15"/>
<circle cx="1379.5" cy="944.2" r="4.15"/>
<circle cx="1383.3" cy="939.5" r="4.15"/>
<circle cx="1351.3" cy="962.5" r="4.15"/>
<circle cx="1338.2" cy="973.4" r="4.15"/>
<circle cx="1355.1" cy="977.1" r="4.15"/>
<circle cx="1358.9" cy="979.9" r="4.15"/>
<circle cx="1354.2" cy="994" r="4.15"/>
<circle cx="1342.9" cy="1003.5" r="4.15"/>
<circle cx="1341.9" cy="994" r="4.15"/>
<circle cx="1366.4" cy="985.6" r="4.15"/>
<circle cx="1378.6" cy="977.1" r="4.15"/>
<circle cx="1364.5" cy="968.7" r="4.15"/>
<circle cx="1399.3" cy="936.3" r="4.15"/>
<circle cx="1391.3" cy="945.2" r="4.15"/>
<circle cx="1424.2" cy="930.2" r="4.15"/>
<circle cx="1427" cy="944.3" r="4.15"/>
<circle cx="1430.8" cy="949" r="4.15"/>
<circle cx="1434.5" cy="956.5" r="4.15"/>
<circle cx="1427" cy="960.3" r="4.15"/>
<circle cx="1423.3" cy="961.2" r="4.15"/>
<circle cx="1401.6" cy="960.8" r="4.15"/>
<circle cx="1396.9" cy="966.9" r="4.15"/>
<circle cx="1413.9" cy="963.1" r="4.15"/>
<circle cx="1414.8" cy="969.7" r="4.15"/>
<circle cx="1390.8" cy="978.6" r="4.15"/>
<circle cx="1401.2" cy="978.6" r="4.15"/>
<circle cx="1433.6" cy="973" r="4.15"/>
<circle cx="1439.2" cy="911.4" r="4.15"/>
<circle cx="1437.4" cy="945.2" r="4.15"/>
<circle cx="1438.3" cy="935.8" r="4.15"/>
<circle cx="1419.5" cy="949.9" r="4.15"/>
<circle cx="1408.2" cy="956.5" r="4.15"/>
<circle cx="1445.3" cy="930.9" r="4.15"/>
<circle cx="1440.2" cy="935.6" r="4.15"/>
<circle cx="1449.1" cy="917.7" r="4.15"/>
<circle cx="1455.7" cy="917.7" r="4.15"/>
<circle cx="1457.6" cy="912.1" r="4.15"/>
<circle cx="1461.3" cy="906.5" r="4.15"/>
<circle cx="1464.1" cy="904.6" r="4.15"/>
<circle cx="1472.6" cy="901.8" r="4.15"/>
<circle cx="1492.3" cy="885.8" r="4.15"/>
<circle cx="1494.2" cy="891.4" r="4.15"/>
<circle cx="1502.2" cy="887.2" r="4.15"/>
<circle cx="1496.6" cy="914.9" r="4.15"/>
<circle cx="1485.8" cy="927.1" r="4.15"/>
<circle cx="1509.2" cy="911.6" r="4.15"/>
<circle cx="1525.7" cy="874.7" r="4.15"/>
<circle cx="1458.3" cy="956.7" r="4.15"/>
</g>
<g fill="#b457d8">
<circle cx="1259" cy="1045.6" r="4.15"/>
<circle cx="1270.9" cy="1036.5" r="4.15"/>
<circle cx="1276" cy="1032.7" r="4.15"/>
<circle cx="1277.8" cy="1022.9" r="4.15"/>
<circle cx="1289.7" cy="1028.6" r="4.15"/>
<circle cx="1298.7" cy="1020.2" r="4.15"/>
<circle cx="1298.9" cy="1015.6" r="4.15"/>
<circle cx="1300.9" cy="1012.5" r="4.15"/>
<circle cx="1306" cy="1011.5" r="4.15"/>
<circle cx="1313.1" cy="1006.4" r="4.15"/>
<circle cx="1313.6" cy="1020.7" r="4.15"/>
<circle cx="1322.3" cy="1014.6" r="4.15"/>
<circle cx="1327.4" cy="1012" r="4.15"/>
<circle cx="1324.8" cy="997.8" r="4.15"/>
<circle cx="1307" cy="993.2" r="4.15"/>
<circle cx="1313.1" cy="989.1" r="4.15"/>
<circle cx="1319.2" cy="985.1" r="4.15"/>
<circle cx="1325.3" cy="981.5" r="4.15"/>
<circle cx="1325.3" cy="984" r="4.15"/>
<circle cx="1302.4" cy="980.3" r="4.15"/>
<circle cx="1281" cy="978.6" r="4.15"/>
<circle cx="1326.8" cy="969.8" r="4.15"/>
<circle cx="1319.2" cy="936.4" r="4.15"/>
<circle cx="1346.6" cy="966.8" r="4.15"/>
<circle cx="1355.1" cy="966.8" r="4.15"/>
<circle cx="1352.3" cy="979" r="4.15"/>
<circle cx="1346.6" cy="981.8" r="4.15"/>
<circle cx="1341.9" cy="984.6" r="4.15"/>
<circle cx="1345.7" cy="988.4" r="4.15"/>
<circle cx="1336.3" cy="989.3" r="4.15"/>
<circle cx="1335.3" cy="994" r="4.15"/>
<circle cx="1337.2" cy="998.7" r="4.15"/>
<circle cx="1335.3" cy="1007.2" r="4.15"/>
<circle cx="1361.2" cy="993.6" r="4.15"/>
<circle cx="1378.1" cy="1010" r="4.15"/>
<circle cx="1360.7" cy="977.1" r="4.15"/>
<circle cx="1366.4" cy="975.2" r="4.15"/>
<circle cx="1372" cy="980.9" r="4.15"/>
<circle cx="1370.1" cy="965.8" r="4.15"/>
<circle cx="1375.8" cy="964.9" r="4.15"/>
<circle cx="1381.4" cy="964" r="4.15"/>
<circle cx="1375.8" cy="956.4" r="4.15"/>
<circle cx="1381.4" cy="954.5" r="4.15"/>
<circle cx="1384.2" cy="951.7" r="4.15"/>
<circle cx="1366.4" cy="971.5" r="4.15"/>
<circle cx="1372" cy="971.5" r="4.15"/>
<circle cx="1377.7" cy="971.5" r="4.15"/>
<circle cx="1383.3" cy="970.5" r="4.15"/>
<circle cx="1371.1" cy="982.8" r="4.15"/>
<circle cx="1389.4" cy="949.9" r="4.15"/>
<circle cx="1394.1" cy="949" r="4.15"/>
<circle cx="1398.8" cy="947.1" r="4.15"/>
<circle cx="1403.5" cy="945.2" r="4.15"/>
<circle cx="1408.2" cy="943.4" r="4.15"/>
<circle cx="1412.9" cy="941.5" r="4.15"/>
<circle cx="1417.6" cy="935.8" r="4.15"/>
<circle cx="1422.3" cy="933" r="4.15"/>
<circle cx="1403.5" cy="937.7" r="4.15"/>
<circle cx="1410.1" cy="936.8" r="4.15"/>
<circle cx="1415.7" cy="943.4" r="4.15"/>
<circle cx="1412.9" cy="952.8" r="4.15"/>
<circle cx="1415.7" cy="954.6" r="4.15"/>
<circle cx="1408.2" cy="950.9" r="4.15"/>
<circle cx="1402.6" cy="952.8" r="4.15"/>
<circle cx="1396.9" cy="954.6" r="4.15"/>
<circle cx="1391.3" cy="956.5" r="4.15"/>
<circle cx="1387.5" cy="960.3" r="4.15"/>
<circle cx="1393.2" cy="960.3" r="4.15"/>
<circle cx="1398.8" cy="959.3" r="4.15"/>
<circle cx="1389.4" cy="966.9" r="4.15"/>
<circle cx="1393.2" cy="967.8" r="4.15"/>
<circle cx="1385.6" cy="967.8" r="4.15"/>
<circle cx="1434.5" cy="926.4" r="4.15"/>
<circle cx="1437.4" cy="922.7" r="4.15"/>
<circle cx="1436.4" cy="931.1" r="4.15"/>
<circle cx="1433.6" cy="942.9" r="4.15"/>
<circle cx="1416.7" cy="978.2" r="4.15"/>
<circle cx="1386.6" cy="987.6" r="4.15"/>
<circle cx="1450" cy="919.6" r="4.15"/>
<circle cx="1479.2" cy="902.7" r="4.15"/>
<circle cx="1457.3" cy="952" r="4.15"/>
</g>
<path d="M92.8 10.2V388.5H657.6 M77 388.5H92.8 M92.8 388.5V404.3 M77 313.2H92.8 M205.4 388.5V404.3 M77 237.9H92.8 M318 388.5V404.3 M77 162.6H92.8 M430.6 388.5V404.3 M77 87.3H92.8 M543.2 388.5V404.3 M77 12H92.8 M655.8 388.5V404.3" fill="none" stroke="#000" stroke-width="3.6"/>
<circle cx="762.6" cy="37.9" r="4" fill="#b457d8"/>
<circle cx="762.6" cy="88.6" r="4" fill="#55a0fa"/>
<circle cx="762.6" cy="139.5" r="4" fill="#00fa00"/>
<circle cx="762.6" cy="190.1" r="4" fill="#ff9b41"/>
<path d="M1129.1 14.05V416.7H1731 M1112 416.7H1129.1 M1129.1 416.7V433.8 M1112 336.55H1129.1 M1249.1 416.7V433.8 M1112 256.4H1129.1 M1369.1 416.7V433.8 M1112 176.25H1129.1 M1489.1 416.7V433.8 M1112 96.1H1129.1 M1609.1 416.7V433.8 M1112 15.95H1129.1 M1729.1 416.7V433.8" fill="none" stroke="#000" stroke-width="3.8"/>
<circle cx="1842.7" cy="42.9" r="4.4" fill="#b457d8"/>
<circle cx="1842.7" cy="97" r="4.4" fill="#55a0fa"/>
<circle cx="1842.7" cy="151.1" r="4.4" fill="#00fa00"/>
<circle cx="1842.7" cy="205.3" r="6.4" fill="#ff9b41"/>
<path d="M101.5 726.6V1128H701.9 M84.4 1128H101.5 M101.5 1128V1145.1 M84.4 1048.1H101.5 M221.2 1128V1145.1 M84.4 968.2H101.5 M340.9 1128V1145.1 M84.4 888.3H101.5 M460.6 1128V1145.1 M84.4 808.4H101.5 M580.3 1128V1145.1 M84.4 728.5H101.5 M700 1128V1145.1" fill="none" stroke="#000" stroke-width="3.8"/>
<circle cx="812.4" cy="755.3" r="4.4" fill="#b457d8"/>
<circle cx="812.4" cy="809.2" r="4.4" fill="#55a0fa"/>
<circle cx="812.4" cy="863.1" r="4.4" fill="#00fa00"/>
<circle cx="812.4" cy="916.9" r="4.4" fill="#ff9b41"/>
<path d="M1128 727.1V1128.5H1729.9 M1110.9 1128.5H1128 M1128 1128.5V1145.6 M1110.9 1048.6H1128 M1248 1128.5V1145.6 M1110.9 968.7H1128 M1368 1128.5V1145.6 M1110.9 888.8H1128 M1488 1128.5V1145.6 M1110.9 808.9H1128 M1608 1128.5V1145.6 M1110.9 729H1128 M1728 1128.5V1145.6" fill="none" stroke="#000" stroke-width="3.8"/>
<circle cx="1841" cy="755.5" r="4.4" fill="#b457d8"/>
<circle cx="1841" cy="809.4" r="4.4" fill="#55a0fa"/>
<circle cx="1841" cy="863.5" r="4.4" fill="#00fa00"/>
<circle cx="1841" cy="917.4" r="4.4" fill="#ff9b41"/>
<g font-family="'Liberation Sans', sans-serif" fill="#000">
<text transform="translate(41.28 399)" style="font-size:28.85px;font-weight:bold">25</text>
<text transform="translate(76.88 436)" style="font-size:28.85px;font-weight:bold">25</text>
<text transform="translate(41.63 324)" style="font-size:28.85px;font-weight:bold">30</text>
<text transform="translate(189.78 436)" style="font-size:28.85px;font-weight:bold">30</text>
<text transform="translate(41.28 248)" style="font-size:28.85px;font-weight:bold">35</text>
<text transform="translate(302.22 436)" style="font-size:28.85px;font-weight:bold">35</text>
<text transform="translate(41.63 173)" style="font-size:28.85px;font-weight:bold">40</text>
<text transform="translate(415.2 436)" style="font-size:28.85px;font-weight:bold">40</text>
<text transform="translate(41.28 98)" style="font-size:28.85px;font-weight:bold">45</text>
<text transform="translate(527.7 436)" style="font-size:28.85px;font-weight:bold">45</text>
<text transform="translate(41.63 22)" style="font-size:28.85px;font-weight:bold">50</text>
<text transform="translate(639.98 436)" style="font-size:28.85px;font-weight:bold">50</text>
<text transform="translate(1073.67 428) scale(1 1.025)" style="font-size:31px;font-weight:bold">25</text>
<text transform="translate(1111.94 468) scale(1 1.025)" style="font-size:31px;font-weight:bold">25</text>
<text transform="translate(1074.12 348) scale(1 1.025)" style="font-size:31px;font-weight:bold">30</text>
<text transform="translate(1232.27 468) scale(1 1.025)" style="font-size:31px;font-weight:bold">30</text>
<text transform="translate(1073.67 268) scale(1 1.025)" style="font-size:31px;font-weight:bold">35</text>
<text transform="translate(1352.08 468) scale(1 1.025)" style="font-size:31px;font-weight:bold">35</text>
<text transform="translate(1074.12 188) scale(1 1.025)" style="font-size:31px;font-weight:bold">40</text>
<text transform="translate(1472.42 468) scale(1 1.025)" style="font-size:31px;font-weight:bold">40</text>
<text transform="translate(1073.67 107) scale(1 1.025)" style="font-size:31px;font-weight:bold">45</text>
<text transform="translate(1592.19 468) scale(1 1.025)" style="font-size:31px;font-weight:bold">45</text>
<text transform="translate(1074.12 27) scale(1 1.025)" style="font-size:31px;font-weight:bold">50</text>
<text transform="translate(1712.18 468) scale(1 1.025)" style="font-size:31px;font-weight:bold">50</text>
<text transform="translate(46.5 1139) scale(1 1.02)" style="font-size:30.6px;font-weight:bold">25</text>
<text transform="translate(84.52 1179) scale(1 1.02)" style="font-size:30.6px;font-weight:bold">25</text>
<text transform="translate(47.04 1059) scale(1 1.02)" style="font-size:30.6px;font-weight:bold">30</text>
<text transform="translate(204.4 1179) scale(1 1.02)" style="font-size:30.6px;font-weight:bold">30</text>
<text transform="translate(46.5 980) scale(1 1.02)" style="font-size:30.6px;font-weight:bold">35</text>
<text transform="translate(323.78 1179) scale(1 1.02)" style="font-size:30.6px;font-weight:bold">35</text>
<text transform="translate(47.04 900) scale(1 1.02)" style="font-size:30.6px;font-weight:bold">40</text>
<text transform="translate(444.11 1179) scale(1 1.02)" style="font-size:30.6px;font-weight:bold">40</text>
<text transform="translate(46.5 820) scale(1 1.02)" style="font-size:30.6px;font-weight:bold">45</text>
<text transform="translate(563.57 1179) scale(1 1.02)" style="font-size:30.6px;font-weight:bold">45</text>
<text transform="translate(47.04 740) scale(1 1.02)" style="font-size:30.6px;font-weight:bold">50</text>
<text transform="translate(683.01 1179) scale(1 1.02)" style="font-size:30.6px;font-weight:bold">50</text>
<text transform="translate(1073.02 1140) scale(1 1.023)" style="font-size:30.85px;font-weight:bold">25</text>
<text transform="translate(1110.89 1180) scale(1 1.023)" style="font-size:30.85px;font-weight:bold">25</text>
<text transform="translate(1073.41 1060) scale(1 1.023)" style="font-size:30.85px;font-weight:bold">30</text>
<text transform="translate(1231.12 1180) scale(1 1.023)" style="font-size:30.85px;font-weight:bold">30</text>
<text transform="translate(1073.02 980) scale(1 1.023)" style="font-size:30.85px;font-weight:bold">35</text>
<text transform="translate(1351 1180) scale(1 1.023)" style="font-size:30.85px;font-weight:bold">35</text>
<text transform="translate(1073.41 900) scale(1 1.023)" style="font-size:30.85px;font-weight:bold">40</text>
<text transform="translate(1471.36 1180) scale(1 1.023)" style="font-size:30.85px;font-weight:bold">40</text>
<text transform="translate(1073.02 820) scale(1 1.023)" style="font-size:30.85px;font-weight:bold">45</text>
<text transform="translate(1591.17 1180) scale(1 1.023)" style="font-size:30.85px;font-weight:bold">45</text>
<text transform="translate(1073.41 740) scale(1 1.023)" style="font-size:30.85px;font-weight:bold">50</text>
<text transform="translate(1710.99 1180) scale(1 1.023)" style="font-size:30.85px;font-weight:bold">50</text>
<text transform="translate(340.85 482) scale(1 1.0412)" style="font-size:31.69px;font-weight:bold;letter-spacing:0.41px">LV-T</text>
<text transform="translate(353.16 518) scale(1 1.0412)" style="font-size:29.56px;font-weight:bold;letter-spacing:1.3px">(A)</text>
<text transform="translate(25 226.8) rotate(-90) scale(1 1.0412)" style="font-size:31.2px;font-weight:bold;letter-spacing:0.14px">R-T</text>
<text transform="translate(804.68 49) scale(1 1.0412)" style="font-size:31.26px;letter-spacing:-1.34px">RAT</text>
<text transform="translate(804.59 100) scale(1 1.0412)" style="font-size:31.26px;letter-spacing:-1.83px">RBT</text>
<text transform="translate(804.78 150) scale(1 1.0412)" style="font-size:31.26px;letter-spacing:-1.83px">RCT</text>
<text transform="translate(804.65 201) scale(1 1.0412)" style="font-size:31.26px;letter-spacing:-1.89px">RDT</text>
<text transform="translate(1399.65 517) scale(1 1.0412)" style="font-size:33.35px;font-weight:bold;letter-spacing:-0.43px">LVT</text>
<text transform="translate(1405.45 555) scale(1 1.0412)" style="font-size:32.7px;font-weight:bold;letter-spacing:1.66px">(B)</text>
<text transform="translate(1056.25 243.35) rotate(-90) scale(1 1.0412)" style="font-size:33.6px;font-weight:bold;letter-spacing:-0.31px">S-T</text>
<text transform="translate(1887.94 54) scale(1 1.0412)" style="font-size:33.8px;letter-spacing:-1px">SAT</text>
<text transform="translate(1888.01 108) scale(1 1.0412)" style="font-size:33.8px;letter-spacing:-1.53px">SBT</text>
<text transform="translate(1887.97 162) scale(1 1.0412)" style="font-size:33.8px;letter-spacing:-1.57px">SCT</text>
<text transform="translate(1887.85 217) scale(1 1.0412)" style="font-size:33.8px;letter-spacing:-1.56px">SDT</text>
<text transform="translate(370.93 1227) scale(1 1.0412)" style="font-size:33.76px;font-weight:bold;letter-spacing:-0.76px">LVT</text>
<text transform="translate(377.11 1265) scale(1 1.0412)" style="font-size:32.73px;font-weight:bold;letter-spacing:1.54px">(C)</text>
<text transform="translate(28.67 955.84) rotate(-90) scale(1 1.0412)" style="font-size:33.6px;font-weight:bold;letter-spacing:-0.78px">A-T</text>
<text transform="translate(858.12 767) scale(1 1.0412)" style="font-size:33.88px;letter-spacing:-1.73px">AAT</text>
<text transform="translate(858.17 820) scale(1 1.0412)" style="font-size:33.88px;letter-spacing:-2.06px">ABT</text>
<text transform="translate(858.15 874) scale(1 1.0412)" style="font-size:33.88px;letter-spacing:-1.9px">ACT</text>
<text transform="translate(858.15 928) scale(1 1.0412)" style="font-size:33.88px;letter-spacing:-2.02px">ADT</text>
<text transform="translate(1398.33 1229) scale(1 1.0412)" style="font-size:33.69px;font-weight:bold;letter-spacing:-0.58px">LVT</text>
<text transform="translate(1404.16 1268) scale(1 1.0412)" style="font-size:31.04px;font-weight:bold;letter-spacing:2.68px">(D)</text>
<text transform="translate(1055.65 956.45) rotate(-90) scale(1 1.0412)" style="font-size:33.6px;font-weight:bold;letter-spacing:-0.31px">C-T</text>
<text transform="translate(1885.97 766) scale(1 1.0412)" style="font-size:34.21px;letter-spacing:-1.47px">CAT</text>
<text transform="translate(1885.93 820) scale(1 1.0412)" style="font-size:34.21px;letter-spacing:-1.99px">CBT</text>
<text transform="translate(1886.15 875) scale(1 1.0412)" style="font-size:34.21px;letter-spacing:-1.79px">CCT</text>
<text transform="translate(1886.03 928) scale(1 1.0412)" style="font-size:34.21px;letter-spacing:-1.9px">CDT</text>
</g>
</svg>
</body></html>
